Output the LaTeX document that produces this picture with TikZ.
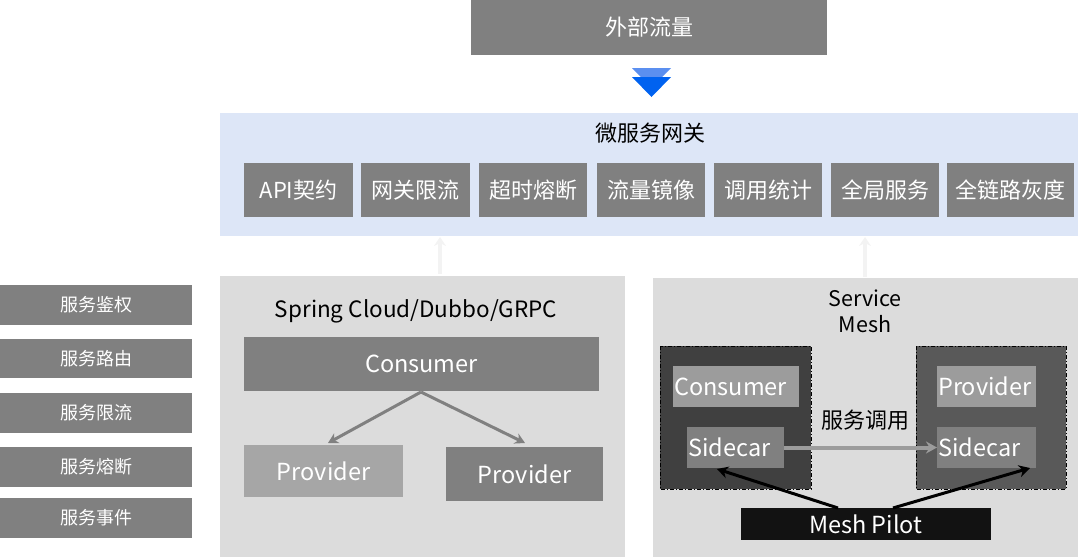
\documentclass[tikz,border=0pt]{standalone}
\usepackage{fontspec}
\setmainfont{Noto Sans CJK SC}
\usetikzlibrary{arrows.meta}
\definecolor{boxgray}{HTML}{808080}
\definecolor{lightgray2}{HTML}{A6A6A6}
\definecolor{panel}{HTML}{DCDCDC}
\definecolor{gwblue}{HTML}{DDE6F7}
\definecolor{arrowlight}{HTML}{5B8FF0}
\definecolor{arrowdark}{HTML}{0062F0}
\definecolor{darkbox}{HTML}{404040}
\definecolor{midbox}{HTML}{595959}
\definecolor{innerlight}{HTML}{9C9C9C}
\definecolor{faint}{HTML}{F3F3F3}
\tikzset{
  lbl/.style={text=white, inner sep=0pt},
  cjk/.style={font=\fontsize{22}{26}\selectfont},
  cjksmall/.style={font=\fontsize{18}{22}\selectfont},
  lat/.style={font=\fontsize{23.5}{28}\selectfont},
  grayarrow/.style={draw=boxgray, line width=3pt, -{Stealth[length=10pt,width=11pt]}},
  blackarrow/.style={draw=black, line width=3pt, -{Stealth[length=11pt,width=12pt]}},
  faintarrow/.style={draw=faint, line width=4pt, -{Stealth[length=9pt,width=12pt]}},
  pod/.style={draw=black, line width=1pt, dash pattern=on 4pt off 2pt on 1pt off 2pt},
}
\newcommand{\boxat}[6]{% name, x1, y1, x2, y2, style
  \path[#6] (#2,#3) rectangle (#4,#5);
  \coordinate (#1) at ({(#2+#4)/2},{(#3+#5)/2});
}
\begin{document}
\begin{tikzpicture}[x=1pt,y=-1pt]
\useasboundingbox (0,0) rectangle (1080,557);
% top
\boxat{ext}{471}{0}{827}{55}{fill=boxgray}
\node[lbl, cjk] at (ext) {外部流量};
% double triangle arrow
\fill[arrowlight] (632,68) -- (671,68) -- (651.5,88) -- cycle;
\fill[arrowdark] (632,77) -- (671,77) -- (651.5,97) -- cycle;
% gateway
\boxat{gw}{220}{113}{1078}{236}{fill=gwblue}
\node[inner sep=0pt, cjk] (gwt) at (650,133) {微服务网关};
\foreach \n/\a/\b/\t in {g1/244/353/API契约, g2/361/470/网关限流, g3/479/587/超时熔断, g4/597/705/流量镜像, g5/714/822/调用统计, g6/831/939/全局服务, g7/947/1074/全链路灰度}{
  \boxat{\n}{\a}{163}{\b}{217}{fill=boxgray}
  \node[lbl, cjk] at (\n) {\t};
}
% left list
\foreach \n/\a/\b/\t in {l1/285/325/服务鉴权, l2/339/378/服务路由, l3/393/433/服务限流, l4/447/487/服务熔断, l5/498/538/服务事件}{
  \boxat{\n}{0}{\a}{192}{\b}{fill=boxgray}
  \node[lbl, cjksmall] at (\n) {\t};
}
% middle panel
\boxat{mid}{220}{276}{625}{557}{fill=panel}
\node[inner sep=0pt, font=\fontsize{22.5}{26}\selectfont] at (416,311) {Spring Cloud/Dubbo/GRPC};
\boxat{cons}{244}{337}{599}{391}{fill=boxgray}
\node[lbl, lat] at (cons) {Consumer};
\boxat{prov1}{244}{445}{403}{497}{fill=lightgray2}
\node[lbl, lat] at (prov1) {Provider};
\boxat{prov2}{446}{447}{603}{501}{fill=boxgray}
\node[lbl, lat] at (prov2) {Provider};
\coordinate (consb) at (421,392);
\coordinate (p1t) at (328,443);
\coordinate (p2t) at (525,443);
\draw[grayarrow] (consb) -- (p1t);
\draw[grayarrow] (consb) -- (p2t);
% right panel
\boxat{mesh}{653}{278}{1078}{557}{fill=panel}
\node[inner sep=0pt, font=\fontsize{21.5}{26}\selectfont, align=center] at (865,311) {Service\\Mesh};
\boxat{lpod}{660}{346}{811}{489}{fill=darkbox, pod}
\boxat{rpod}{916}{346}{1066}{489}{fill=midbox, pod}
\boxat{mcons}{673}{366}{799}{407}{fill=innerlight}
\node[lbl, lat, anchor=west] at (674,386.5) {Consumer};
\boxat{lsc}{687}{427}{784}{468}{fill=boxgray}
\node[lbl, lat, anchor=west] at (688,447.5) {Sidecar};
\boxat{mprov}{937}{366}{1036}{407}{fill=innerlight}
\node[lbl, lat, anchor=west] at (938,386.5) {Provider};
\boxat{rsc}{937}{427}{1036}{468}{fill=boxgray}
\node[lbl, lat, anchor=west] at (938,447.5) {Sidecar};
\node[inner sep=0pt, cjk] at (865,420) {服务调用};
\draw[draw=innerlight, line width=4pt, -{Stealth[length=11pt,width=12pt]}] (784,447.5) -- (937,447.5);
\boxat{pilot}{741}{508}{991}{540}{fill=black!93}
\node[lbl, lat] at (pilot) {Mesh Pilot};
\coordinate (pl) at (838,508);
\coordinate (pr) at (893,508);
\draw[blackarrow] (pl) -- (717,469);
\draw[blackarrow] (pr) -- (1030,468);
% faint arrows
\draw[faintarrow] (440,274) -- (440,237);
\draw[faintarrow] (865,277) -- (865,237);
\end{tikzpicture}
\end{document}
